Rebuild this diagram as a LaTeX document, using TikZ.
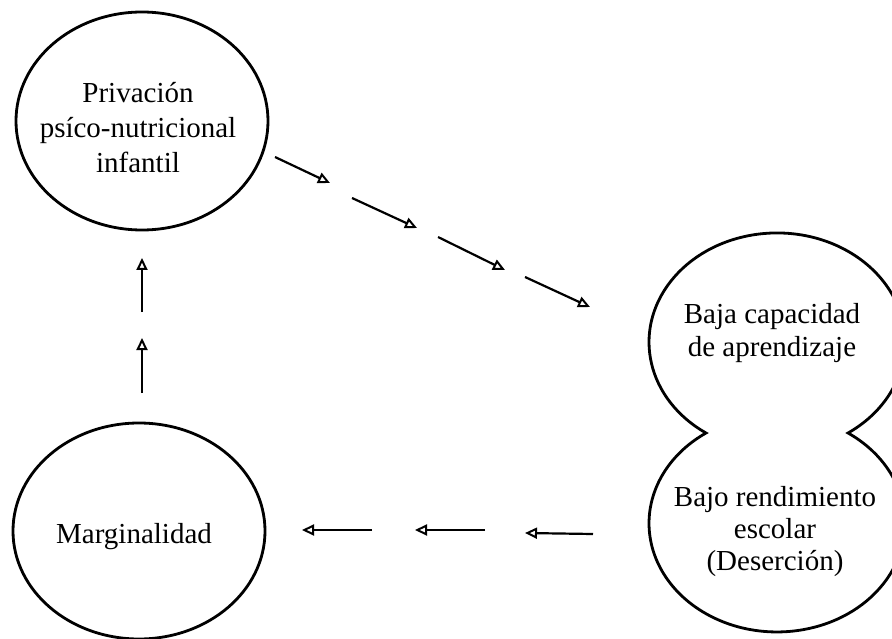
\documentclass[tikz,border=0pt]{standalone}
\usepackage{fontspec}
\setmainfont{Liberation Serif}
\usetikzlibrary{shapes.geometric,arrows.meta}
\begin{document}
\begin{tikzpicture}[x=1pt,y=1pt,
  outline/.style={draw=black,line width=2.8pt},
  bubble/.style={outline,ellipse,inner sep=0pt},
  label/.style={font=\fontsize{29pt}{35pt}\selectfont,align=center,inner sep=0pt},
  arr/.style={line width=2.2pt,-{Triangle[open,length=12pt,width=11pt,line width=2pt]}}]
\useasboundingbox (0,0) rectangle (892,-639);
% ellipses
\node[bubble,minimum width=252pt,minimum height=218pt] (priv) at (142,-121) {};
\node[bubble,minimum width=252pt,minimum height=216pt] (marg) at (139,-531) {};
% figure-eight shape
\draw[outline,line join=miter] (706,-433)
  arc[start angle=236.3,end angle=-56.3,x radius=128,y radius=109.2]
  arc[start angle=56.3,end angle=-236.3,x radius=128,y radius=108.6] -- cycle;
% texts
\node[label] (tpriv) at (138,-128) {Privación\\psíco-nutricional\\infantil};
\node[label,anchor=base] (tmarg) at (134,-543) {Marginalidad};
\node[label,font=\fontsize{29pt}{33pt}\selectfont] (tbaja) at (772,-333) {Baja capacidad\\de aprendizaje};
\node[label,font=\fontsize{29pt}{32pt}\selectfont] (tbajo) at (775,-532) {Bajo rendimiento\\escolar\\(Deserción)};
% arrow end points
\coordinate (d1s) at (275,-157); \coordinate (d1e) at (330,-183);
\coordinate (d2s) at (352,-198); \coordinate (d2e) at (417,-228);
\coordinate (d3s) at (438,-237); \coordinate (d3e) at (505,-270);
\coordinate (d4s) at (525,-277); \coordinate (d4e) at (590,-307);
\coordinate (v1s) at (142,-393); \coordinate (v1e) at (142,-338);
\coordinate (v2s) at (142,-312); \coordinate (v2e) at (142,-258);
\coordinate (h1s) at (593,-534); \coordinate (h1e) at (525,-533);
\coordinate (h2s) at (485,-530); \coordinate (h2e) at (415,-530);
\coordinate (h3s) at (372,-530); \coordinate (h3e) at (302,-530);
\draw[arr] (d1s) -- (d1e);
\draw[arr] (d2s) -- (d2e);
\draw[arr] (d3s) -- (d3e);
\draw[arr] (d4s) -- (d4e);
\draw[arr] (v1s) -- (v1e);
\draw[arr] (v2s) -- (v2e);
\draw[arr] (h1s) -- (h1e);
\draw[arr] (h2s) -- (h2e);
\draw[arr] (h3s) -- (h3e);
\end{tikzpicture}
\end{document}
